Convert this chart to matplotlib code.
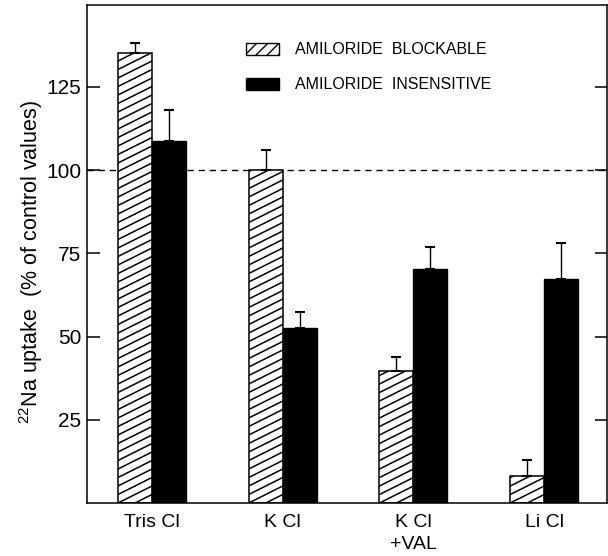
import numpy as np
import matplotlib
matplotlib.use("Agg")
import matplotlib.pyplot as plt
from matplotlib.patches import Patch
from matplotlib.collections import LineCollection
from matplotlib import font_manager

# ---------------- data ----------------
categories = ["Tris Cl", "K Cl", "K Cl\n+VAL", "Li Cl"]
blockable = [135.3, 100.0, 39.8, 8.0]
blockable_err = [2.8, 6.1, 4.2, 5.0]
insensitive = [108.6, 52.6, 70.3, 67.3]
insensitive_err = [9.5, 4.9, 6.7, 10.8]
yticks = [25, 50, 75, 100, 125]
legend_labels = ["AMILORIDE  BLOCKABLE", "AMILORIDE  INSENSITIVE"]


def pick(fams):
    for f in fams:
        try:
            font_manager.findfont(f, fallback_to_default=False)
            return f
        except Exception:
            pass
    return "DejaVu Sans"


narrow = pick(["Liberation Sans Narrow", "Liberation Sans", "DejaVu Sans"])
plain = pick(["Liberation Sans", "DejaVu Sans"])
plt.rcParams["font.family"] = [plain, "DejaVu Sans"]
plt.rcParams["mathtext.fontset"] = "custom"
plt.rcParams["mathtext.rm"] = plain

fig = plt.figure(figsize=(6.08, 5.56), dpi=100)
ax = fig.add_axes([87 / 608, 53 / 556, 520 / 608, 498 / 556])

x = np.arange(len(categories))
w = 0.26
ax.set_xlim(-0.497, 3.48)
ax.set_ylim(0, 149.6)

ax.axhline(100, color="black", lw=1.0, ls=(0, (4.5, 3.5)), zorder=1)

bars_h = ax.bar(x - w / 2, blockable, width=w, color="white", edgecolor="black",
                linewidth=1.1, zorder=2)
bars_b = ax.bar(x + w / 2, insensitive, width=w, color="black", edgecolor="black",
                linewidth=1.0, zorder=2)

# custom shallow diagonal hatching, clipped to each hatched bar
inv = ax.transData.inverted()
spacing = 8.5   # px between lines (vertical)
slope = 0.5
for b in bars_h:
    bx, by = b.get_x(), b.get_y()
    bw, bh = b.get_width(), b.get_height()
    (X0, Y0) = ax.transData.transform((bx, by))
    (X1, Y1) = ax.transData.transform((bx + bw, by + bh))
    segs = []
    ystart = Y0 - slope * (X1 - X0) - spacing
    k = 0
    while ystart + k * spacing < Y1 + spacing:
        ya = ystart + k * spacing
        p0 = inv.transform((X0 - 2, ya - 2 * slope))
        p1 = inv.transform((X1 + 2, ya + slope * (X1 - X0 + 2)))
        segs.append([p0, p1])
        k += 1
    lc = LineCollection(segs, colors="black", linewidths=1.1, zorder=2.5)
    ax.add_collection(lc)
    lc.set_clip_path(b)

ax.errorbar(x - w / 2, blockable, yerr=[np.zeros(4), blockable_err], fmt="none",
            ecolor="black", elinewidth=1.0, capsize=3.5, capthick=1.5, zorder=3)
ax.errorbar(x + w / 2, insensitive, yerr=[np.zeros(4), insensitive_err], fmt="none",
            ecolor="black", elinewidth=1.0, capsize=3.5, capthick=1.5, zorder=3)

for s in ax.spines.values():
    s.set_linewidth(1.1)

ax.set_yticks(yticks)
ax.set_yticklabels([str(v) for v in yticks], fontfamily=narrow, fontsize=15)
ax.tick_params(axis="y", direction="in", length=9, width=1.1, pad=4,
               right=True, labelright=False)
ax.set_xticks(x)
ax.set_xticklabels(categories, fontfamily=narrow, fontsize=14, linespacing=1.35,
                   va="top")
ax.tick_params(axis="x", length=0, pad=8)

ax.set_ylabel(r"$^{22}$Na uptake  (% of control values)", fontsize=15.5)
ax.yaxis.set_label_coords(-0.08, 0.484)

handles = [Patch(facecolor="white", edgecolor="black", hatch="///", linewidth=1.0),
           Patch(facecolor="black", edgecolor="black")]
ax.legend(handles, legend_labels, loc="upper left", bbox_to_anchor=(0.305, 0.925),
          frameon=False, fontsize=11.5, handlelength=2.1, handleheight=0.75,
          handletextpad=1.0, labelspacing=1.25, borderpad=0, borderaxespad=0)

fig.savefig("out.png", dpi=100)
